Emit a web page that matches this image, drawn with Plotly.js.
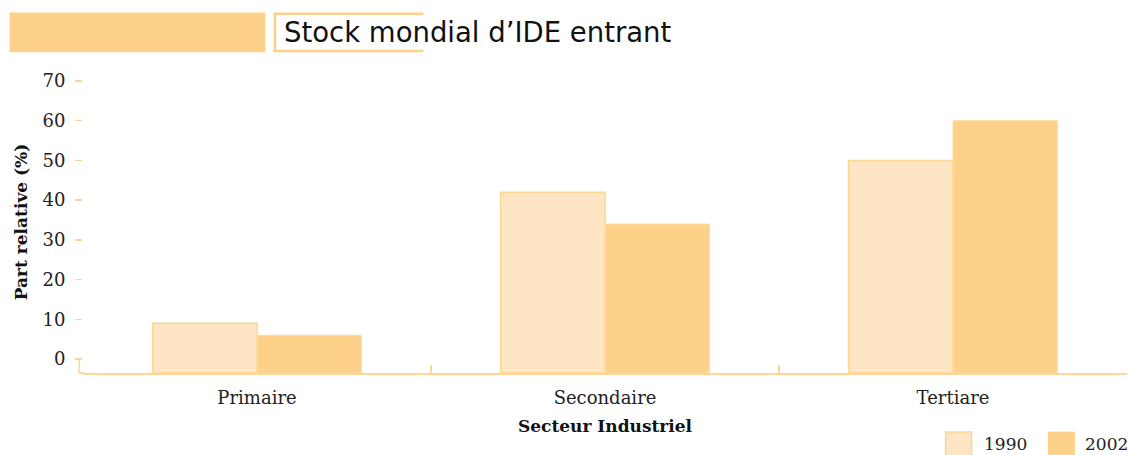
<!DOCTYPE html>
<html>
<head>
<meta charset="utf-8">
<script src="https://cdn.plot.ly/plotly-3.0.1.min.js"></script>
<style>html,body{margin:0;padding:0;background:#fff;}#chart{width:1129px;height:455px;}</style>
</head>
<body>
<div id="chart"></div>
<script>
// ---- data ----
const categories = ["Primaire", "Secondaire", "Tertiare"];
const seriesNames = ["1990", "2002"];
const values1990 = [9, 42, 50];
const values2002 = [6, 34, 60];
const yTickVals = [0, 10, 20, 30, 40, 50, 60, 70];
const chartTitle = "Stock mondial d\u2019IDE entrant";
const xTitle = "Secteur Industriel";
const yTitle = "Part relative (%)";

// ---- style ----
const W = 1129, H = 455;
const M = {l: 82.5, r: 2, t: 70.6, b: 82};
const PW = W - M.l - M.r, PH = H - M.t - M.b;
const px = x => (x - M.l) / PW;
const py = y => (H - M.b - y) / PH;
const yMin = -3.5, yMax = 72.5;
const light = "#FEE6C5", lightLine = "#FDD592", dark = "#FED18B", darkLine = "#FEDCA3", axisCol = "#FDD598";
const serif = "DejaVu Serif, serif";

const traces = [
  {type: "bar", name: seriesNames[0], x: categories, y: values1990.map(v => v - yMin), base: yMin,
   marker: {color: light, line: {color: lightLine, width: 1.5}}, hoverinfo: "skip"},
  {type: "bar", name: seriesNames[1], x: categories, y: values2002.map(v => v - yMin), base: yMin,
   marker: {color: dark, line: {color: darkLine, width: 1}}, hoverinfo: "skip"}
];

const shapes = [
  // title decoration
  {type: "rect", xref: "paper", yref: "paper", x0: px(9), x1: px(265), y0: py(51.7), y1: py(12), fillcolor: dark, line: {width: 0}},
  {type: "line", xref: "paper", yref: "paper", x0: px(273), x1: px(423), y0: py(13.2), y1: py(13.2), line: {color: dark, width: 2.5}},
  {type: "line", xref: "paper", yref: "paper", x0: px(273), x1: px(423), y0: py(50.5), y1: py(50.5), line: {color: dark, width: 2.5}},
  {type: "line", xref: "paper", yref: "paper", x0: px(274.6), x1: px(274.6), y0: py(12), y1: py(51.7), line: {color: dark, width: 2.5}},
  // axis corner
  {type: "line", xref: "paper", yref: "paper", x0: px(78.7), x1: px(83), y0: 0, y1: 0, line: {color: axisCol, width: 2}},
  {type: "line", xref: "paper", yref: "y", x0: px(78.7), x1: px(78.7), y0: yMin, y1: 0, line: {color: axisCol, width: 1.5}},
  // legend swatches
  {type: "rect", xref: "paper", yref: "paper", x0: px(945.5), x1: px(971.5), y0: py(456), y1: py(432), fillcolor: light, line: {color: lightLine, width: 1.5}},
  {type: "rect", xref: "paper", yref: "paper", x0: px(1047.7), x1: px(1075), y0: py(456), y1: py(431.7), fillcolor: dark, line: {width: 0}}
];

const annotations = [
  {xref: "paper", yref: "paper", x: px(282), y: py(32), xanchor: "left", yanchor: "middle", showarrow: false,
   text: chartTitle, font: {family: "DejaVu Sans, sans-serif", size: 27.5, color: "#111"}},
  {xref: "paper", yref: "paper", x: px(982), y: py(444), xanchor: "left", yanchor: "middle", showarrow: false,
   text: seriesNames[0], font: {family: serif, size: 17, color: "#222"}},
  {xref: "paper", yref: "paper", x: px(1083), y: py(444), xanchor: "left", yanchor: "middle", showarrow: false,
   text: seriesNames[1], font: {family: serif, size: 17, color: "#222"}}
];

const layout = {
  width: W, height: H,
  margin: M,
  paper_bgcolor: "#fff", plot_bgcolor: "#fff",
  showlegend: false,
  barmode: "group", bargap: 0.4, bargroupgap: 0,
  xaxis: {
    type: "category", automargin: false,
    showline: true, linecolor: axisCol, linewidth: 2,
    ticks: "inside", tickson: "boundaries", ticklen: 8, tickcolor: axisCol, tickwidth: 1.5,
    showgrid: false, zeroline: false,
    ticklabelstandoff: 7,
    tickfont: {family: serif, size: 18, color: "#222"},
    title: {text: "<b>" + xTitle + "</b>", font: {family: serif, size: 17, color: "#111"}, standoff: 14}
  },
  yaxis: {
    range: [yMin, yMax], automargin: false,
    tickvals: yTickVals, ticktext: yTickVals.map(String),
    showline: false, showgrid: false, zeroline: false,
    ticks: "outside", ticklen: 7, tickcolor: axisCol, tickwidth: 1.5,
    ticklabelstandoff: 6,
    tickfont: {family: serif, size: 18, color: "#222"},
    title: {text: "<b>" + yTitle + "</b>", font: {family: serif, size: 17, color: "#111"}, standoff: 10}
  },
  shapes: shapes,
  annotations: annotations
};

Plotly.newPlot("chart", traces, layout, {displayModeBar: false, staticPlot: true});
</script>
</body>
</html>
